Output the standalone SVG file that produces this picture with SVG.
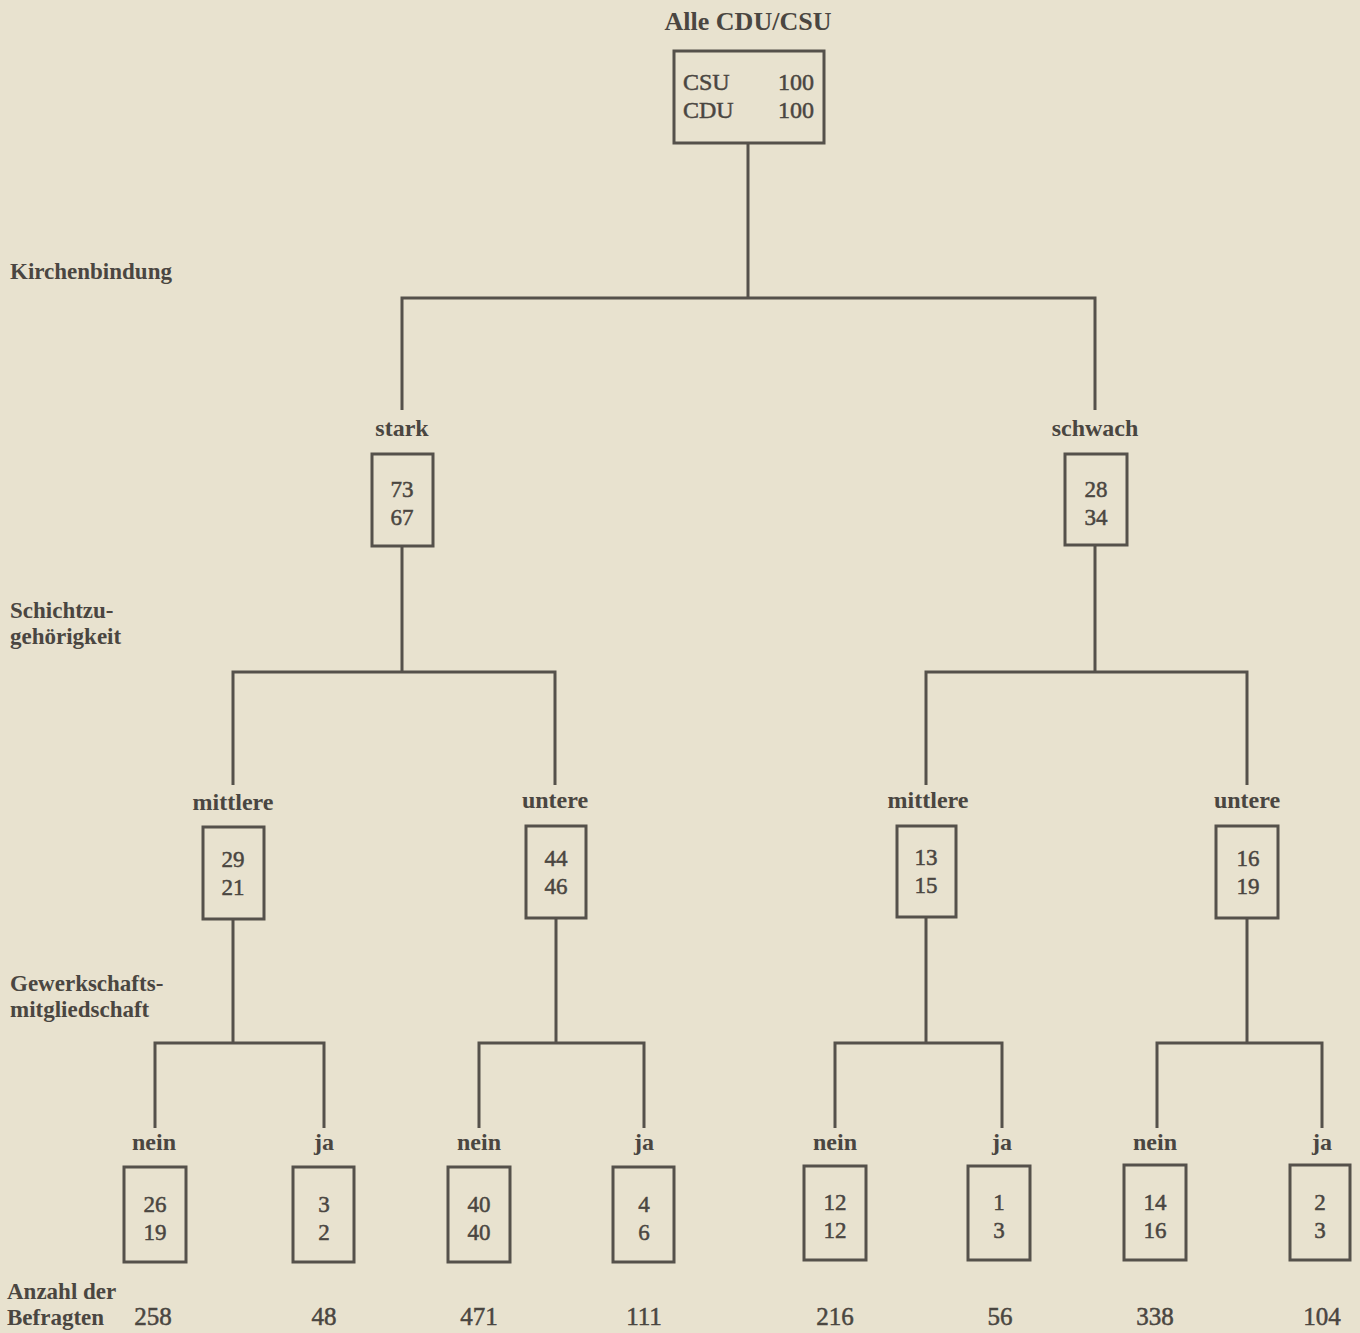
<svg xmlns="http://www.w3.org/2000/svg" width="1360" height="1333" viewBox="0 0 1360 1333">
<style>
.bg{fill:#e8e2cf}
.box{fill:none;stroke:#55514b;stroke-width:3}
.ln{fill:none;stroke:#55514b;stroke-width:3}
text{font-family:"Liberation Serif","Times New Roman",serif;fill:#4a4641}
.t{font-size:24px;text-anchor:middle;stroke:#4a4641;stroke-width:0.5}
.n{font-size:23px;text-anchor:middle;stroke:#4a4641;stroke-width:0.5}
.c{font-size:25px;text-anchor:middle;stroke:#4a4641;stroke-width:0.5}
.lab{font-size:24px;font-weight:bold;text-anchor:middle}
.title{font-size:26px;font-weight:bold;text-anchor:middle}
.side{font-size:23px;font-weight:bold}
</style>
<rect class="bg" x="0" y="0" width="1360" height="1333"/>
<g id="connectors">
<path class="ln" d="M748 143 V298 M402 410 V298 H1095 V410"/>
<path class="ln" d="M402 546 V672 M233 785 V672 H555 V785"/>
<path class="ln" d="M1095 545 V672 M926 785 V672 H1247 V785"/>
<path class="ln" d="M233 919 V1043 M155 1128 V1043 H324 V1128"/>
<path class="ln" d="M556 918 V1043 M479 1128 V1043 H644 V1128"/>
<path class="ln" d="M926 917 V1043 M835 1128 V1043 H1002 V1128"/>
<path class="ln" d="M1247 918 V1043 M1157 1128 V1043 H1322 V1128"/>
</g>
<g id="side-labels">
<text class="side" x="10" y="279">Kirchenbindung</text>
<text class="side" x="10" y="618">Schichtzu-</text>
<text class="side" x="10" y="644">gehörigkeit</text>
<text class="side" x="10" y="991">Gewerkschafts-</text>
<text class="side" x="10" y="1017">mitgliedschaft</text>
<text class="side" x="7" y="1299">Anzahl der</text>
<text class="side" x="7" y="1325">Befragten</text>
</g>
<g id="root">
<text class="title" x="748" y="30">Alle CDU/CSU</text>
<rect class="box" x="674" y="51" width="150" height="92"/>
<text class="t" x="683" y="90" style="text-anchor:start">CSU</text>
<text class="t" x="683" y="118" style="text-anchor:start">CDU</text>
<text class="t" x="814" y="90" style="text-anchor:end">100</text>
<text class="t" x="814" y="118" style="text-anchor:end">100</text>
</g>
<g id="stark">
<text class="lab" x="402" y="436">stark</text>
<rect class="box" x="372" y="454" width="61" height="92"/>
<text class="n" x="402" y="497">73</text>
<text class="n" x="402" y="525">67</text>
</g>
<g id="schwach">
<text class="lab" x="1095" y="436">schwach</text>
<rect class="box" x="1065" y="454" width="62" height="91"/>
<text class="n" x="1096" y="497">28</text>
<text class="n" x="1096" y="525">34</text>
</g>
<g id="stark-mittlere">
<text class="lab" x="233" y="810">mittlere</text>
<rect class="box" x="203" y="827" width="61" height="92"/>
<text class="n" x="233" y="867">29</text>
<text class="n" x="233" y="895">21</text>
</g>
<g id="stark-untere">
<text class="lab" x="555" y="808">untere</text>
<rect class="box" x="526" y="826" width="60" height="92"/>
<text class="n" x="556" y="866">44</text>
<text class="n" x="556" y="894">46</text>
</g>
<g id="schwach-mittlere">
<text class="lab" x="928" y="808">mittlere</text>
<rect class="box" x="897" y="826" width="59" height="91"/>
<text class="n" x="926" y="865">13</text>
<text class="n" x="926" y="893">15</text>
</g>
<g id="schwach-untere">
<text class="lab" x="1247" y="808">untere</text>
<rect class="box" x="1216" y="826" width="62" height="92"/>
<text class="n" x="1248" y="866">16</text>
<text class="n" x="1248" y="894">19</text>
</g>
<g id="leaf1">
<text class="lab" x="154" y="1150">nein</text>
<rect class="box" x="124" y="1167" width="62" height="95"/>
<text class="n" x="155" y="1212">26</text>
<text class="n" x="155" y="1240">19</text>
<text class="c" x="153" y="1325">258</text>
</g>
<g id="leaf2">
<text class="lab" x="324" y="1150">ja</text>
<rect class="box" x="293" y="1167" width="61" height="95"/>
<text class="n" x="324" y="1212">3</text>
<text class="n" x="324" y="1240">2</text>
<text class="c" x="324" y="1325">48</text>
</g>
<g id="leaf3">
<text class="lab" x="479" y="1150">nein</text>
<rect class="box" x="448" y="1167" width="62" height="95"/>
<text class="n" x="479" y="1212">40</text>
<text class="n" x="479" y="1240">40</text>
<text class="c" x="479" y="1325">471</text>
</g>
<g id="leaf4">
<text class="lab" x="644" y="1150">ja</text>
<rect class="box" x="613" y="1167" width="61" height="95"/>
<text class="n" x="644" y="1212">4</text>
<text class="n" x="644" y="1240">6</text>
<text class="c" x="644" y="1325">111</text>
</g>
<g id="leaf5">
<text class="lab" x="835" y="1150">nein</text>
<rect class="box" x="804" y="1166" width="62" height="94"/>
<text class="n" x="835" y="1210">12</text>
<text class="n" x="835" y="1238">12</text>
<text class="c" x="835" y="1325">216</text>
</g>
<g id="leaf6">
<text class="lab" x="1002" y="1150">ja</text>
<rect class="box" x="968" y="1166" width="62" height="94"/>
<text class="n" x="999" y="1210">1</text>
<text class="n" x="999" y="1238">3</text>
<text class="c" x="1000" y="1325">56</text>
</g>
<g id="leaf7">
<text class="lab" x="1155" y="1150">nein</text>
<rect class="box" x="1124" y="1165" width="62" height="95"/>
<text class="n" x="1155" y="1210">14</text>
<text class="n" x="1155" y="1238">16</text>
<text class="c" x="1155" y="1325">338</text>
</g>
<g id="leaf8">
<text class="lab" x="1322" y="1150">ja</text>
<rect class="box" x="1290" y="1165" width="60" height="95"/>
<text class="n" x="1320" y="1210">2</text>
<text class="n" x="1320" y="1238">3</text>
<text class="c" x="1322" y="1325">104</text>
</g>
</svg>
